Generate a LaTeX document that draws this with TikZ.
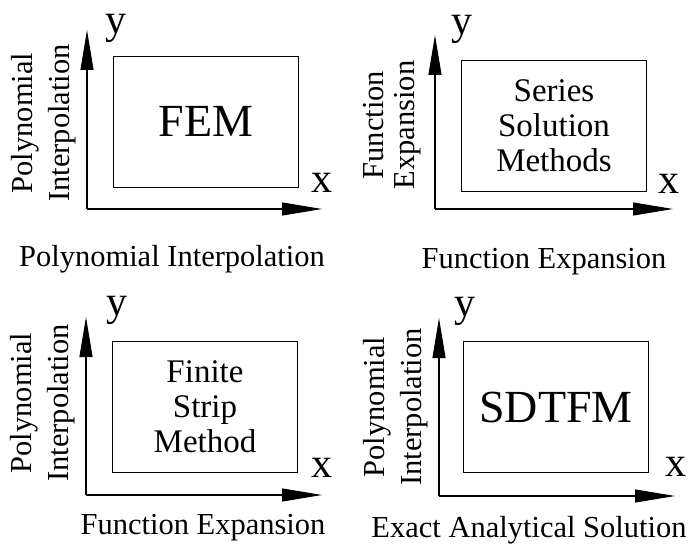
\documentclass[tikz,border=0pt]{standalone}
\usepackage{fontspec}
\setmainfont{Liberation Serif}
\usetikzlibrary{arrows.meta,positioning}

\begin{document}
\begin{tikzpicture}[x=1pt, y=-1pt,
        axis/.style={-{Triangle[length=40pt,width=13pt]}, line width=1.1pt},
        region/.style={rectangle, draw, line width=0.9pt, minimum width=185pt, minimum height=131pt, inner sep=0pt, align=center, font=\fontsize{33}{35}\selectfont},
        big/.style={font=\fontsize{46}{50}\selectfont},
        varname/.style={inner sep=0pt, font=\fontsize{42}{46}\selectfont},
        sidelabel/.style={rotate=90, align=center, inner sep=0pt, font=\fontsize{30.5}{37}\selectfont},
        basislabel/.style={inner sep=0pt, font=\fontsize{30.5}{37}\selectfont}]

        \useasboundingbox (0,0) rectangle (690,548);

        % FEM
        \coordinate (o1) at (87,209);
        \coordinate (ytip1) at (87,30);
        \coordinate (xtip1) at (322,209);
        \draw[axis] (o1) -- (ytip1);
        \draw[axis] (o1) -- (xtip1);
        \node[region, big] (fem) at (206,121.5) {FEM};
        \node[varname] (y1) at (116,28) {y};
        \node[varname] (x1) at (322,183) {x};
        \node[sidelabel] (side1) at (43.5,123) {Polynomial\\Interpolation};
        \node[basislabel] (base1) at (172,259) {Polynomial Interpolation};

        % Series solution
        \coordinate (o2) at (435,209);
        \coordinate (ytip2) at (435,35);
        \coordinate (xtip2) at (673,209);
        \draw[axis] (o2) -- (ytip2);
        \draw[axis] (o2) -- (xtip2);
        \node[region] (series) at (554,125.5) {Series\\Solution\\Methods};
        \node[varname] (y2) at (462,29) {y};
        \node[varname] (x2) at (669,184) {x};
        \node[sidelabel, font=\fontsize{30.5}{31}\selectfont] (side2) at (392,125) {Function\\Expansion};
        \node[basislabel] (base2) at (544,262) {Function Expansion};

        % Finite strip
        \coordinate (o3) at (86,495);
        \coordinate (ytip3) at (86,317);
        \coordinate (xtip3) at (322,495);
        \draw[axis] (o3) -- (ytip3);
        \draw[axis] (o3) -- (xtip3);
        \node[region] (strip) at (205,406.5) {Finite\\Strip\\Method};
        \node[varname] (y3) at (117,310) {y};
        \node[varname] (x3) at (322,468) {x};
        \node[sidelabel] (side3) at (42.5,403) {Polynomial\\Interpolation};
        \node[basislabel] (base3) at (203,528) {Function Expansion};

        % SDTFM
        \coordinate (o4) at (439,496);
        \coordinate (ytip4) at (439,318);
        \coordinate (xtip4) at (675,496);
        \draw[axis] (o4) -- (ytip4);
        \draw[axis] (o4) -- (xtip4);
        \node[region, big] (sdtfm) at (556,407) {SDTFM};
        \node[varname] (y4) at (465,311) {y};
        \node[varname] (x4) at (676,467) {x};
        \node[sidelabel] (side4) at (396,407) {Polynomial\\Interpolation};
        \node[basislabel] (base4) at (529,530) {Exact Analytical Solution};
    \end{tikzpicture}
\end{document}
